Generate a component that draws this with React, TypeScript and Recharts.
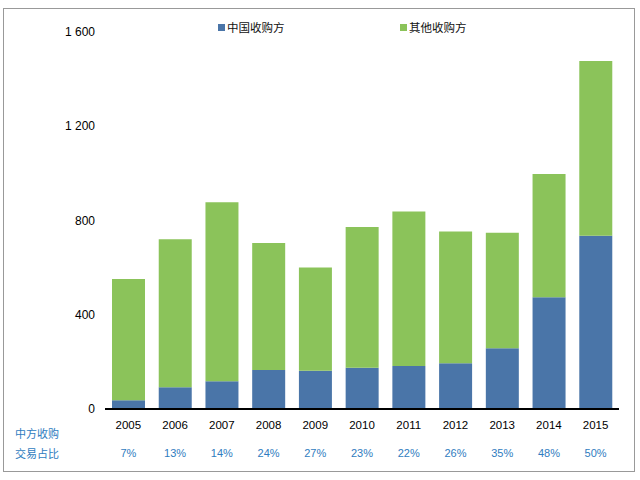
import { BarChart, Bar, XAxis, YAxis } from 'recharts';

// ── Data ─────────────────────────────────────────────────────

const years = ['2005', '2006', '2007', '2008', '2009', '2010', '2011', '2012', '2013', '2014', '2015'];
const chinaBuyers = [37, 92, 118, 166, 162, 175, 183, 194, 258, 474, 735];
const otherBuyers = [515, 628, 759, 539, 439, 597, 655, 559, 490, 523, 742];
const chinaShare = ['7%', '13%', '14%', '24%', '27%', '23%', '22%', '26%', '35%', '48%', '50%'];
const yTicks = [0, 400, 800, 1200, 1600];
const seriesNames = ['中国收购方', '其他收购方'];

const BLUE = '#4a75a8';
const GREEN = '#8bc35a';
const LABEL_BLUE = '#2f7cc0';
const FONT = '"Liberation Sans", Arial, sans-serif';
const CJK = '"Noto Sans CJK SC", sans-serif';

const rows = years.map((year, i) => ({
  year,
  china: chinaBuyers[i],
  other: otherBuyers[i],
}));

// ── Ticks ────────────────────────────────────────────────────

function YearTick({ x, y, index }: any) {
  return (
    <g>
      <text x={x} y={y} dy={12} textAnchor="middle" fontFamily={FONT} fontSize={11.5} fill="#000">
        {years[index]}
      </text>
      <text x={x} y={y} dy={40} textAnchor="middle" fontFamily={FONT} fontSize={11} fill={LABEL_BLUE}>
        {chinaShare[index]}
      </text>
    </g>
  );
}

function ValueTick({ x, y, payload }: any) {
  const label = String(payload.value).replace(/\B(?=(\d{3})+(?!\d))/g, ' ');
  return (
    <text x={x} y={y} dy={4} textAnchor="end" fontFamily={FONT} fontSize={12} fill="#000">
      {label}
    </text>
  );
}

function LegendBox() {
  const colors = [BLUE, GREEN];
  return (
    <div style={{ position: 'absolute', left: 218, top: 19, display: 'flex', fontFamily: CJK, fontSize: 11.5, color: '#111' }}>
      {seriesNames.map((name, i) => (
        <div key={name} style={{ width: 182, display: 'flex', alignItems: 'center' }}>
          <span style={{ width: 7, height: 7, background: colors[i], marginRight: 2, display: 'inline-block' }} />
          {name}
        </div>
      ))}
    </div>
  );
}

export default function App() {
  return (
    <div style={{ position: 'relative', width: 640, height: 480, background: '#fff' }}>
      <style>{'body{margin:0}'}</style>
      <div
        style={{
          position: 'absolute', left: 3, top: 8, width: 632, height: 464,
          border: '1px solid #999', boxSizing: 'border-box', pointerEvents: 'none',
        }}
      />
      <BarChart
        width={640}
        height={480}
        data={rows}
        margin={{ top: 32, right: 21, bottom: 0, left: 0 }}
        barCategoryGap="15%"
      >
        <XAxis
          dataKey="year"
          axisLine={{ stroke: '#000', strokeWidth: 2 }}
          tickLine={false}
          tick={<YearTick />}
          interval={0}
          height={71}
        />
        <YAxis
          width={105}
          domain={[0, 1600]}
          ticks={yTicks}
          axisLine={false}
          tickLine={false}
          tickSize={6}
          tickMargin={4}
          tick={<ValueTick />}
          interval={0}
        />
        <Bar dataKey="china" name={seriesNames[0]} stackId="a" fill={BLUE} isAnimationActive={false} />
        <Bar dataKey="other" name={seriesNames[1]} stackId="a" fill={GREEN} isAnimationActive={false} />
      </BarChart>
      <LegendBox />
      <div style={{ position: 'absolute', left: 15, top: 425, fontFamily: CJK, fontSize: 11, color: LABEL_BLUE, lineHeight: '16px' }}>
        中方收购
      </div>
      <div style={{ position: 'absolute', left: 15, top: 445, fontFamily: CJK, fontSize: 11, color: LABEL_BLUE, lineHeight: '16px' }}>
        交易占比
      </div>
    </div>
  );
}
